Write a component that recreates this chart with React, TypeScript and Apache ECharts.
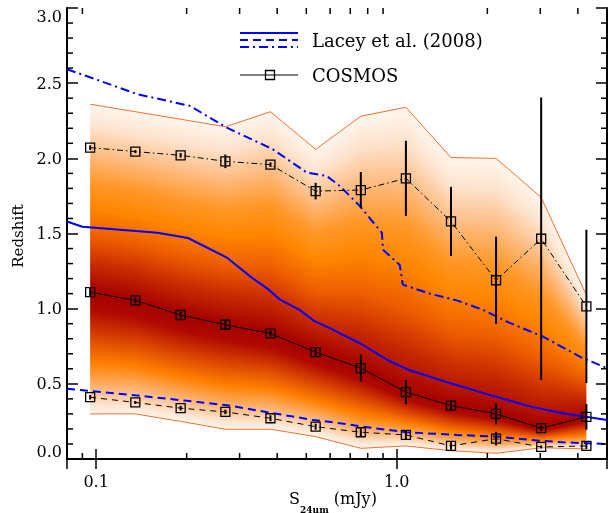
import React, { useEffect, useRef } from 'react';
import * as echarts from 'echarts';

// ---------- data ----------
const cosmosX = [0.0955, 0.135, 0.191, 0.269, 0.38, 0.537, 0.759, 1.072, 1.514, 2.138, 3.02, 4.27];
const cosmosMedian = [1.11, 1.055, 0.958, 0.893, 0.835, 0.711, 0.605, 0.445, 0.355, 0.3, 0.205, 0.28];
const cosmosMedianErr = [0.03, 0.02, 0.02, 0.03, 0.02, 0.033, 0.09, 0.08, 0.035, 0.07, 0.02, 0.085];
const cosmosUpper = [2.071, 2.045, 2.02, 1.98, 1.958, 1.782, 1.789, 1.867, 1.58, 1.189, 1.465, 1.015];
const cosmosUpperErr = [0.015, 0.01, 0.015, 0.045, 0.015, 0.055, 0.12, 0.25, 0.23, 0.29, 0.94, 0.51];
const cosmosLower = [0.411, 0.376, 0.338, 0.313, 0.271, 0.215, 0.178, 0.16, 0.087, 0.135, 0.08, 0.087];
const cosmosLowerErr = [0.015, 0.01, 0.015, 0.015, 0.02, 0.02, 0.025, 0.03, 0.025, 0.045, 0.01, 0.02];
const bandTop = [2.36, 2.31, 2.26, 2.21, 2.31, 2.06, 2.28, 2.34, 2.005, 2.0, 1.74, 1.09];
const bandBottom = [0.3, 0.3, 0.25, 0.198, 0.198, 0.149, 0.071, 0.087, 0.055, 0.038, 0.075, 0.067];

const laceyMedX = [0.08, 0.09, 0.16, 0.202, 0.272, 0.33, 0.373, 0.409, 0.476, 0.534, 0.599, 0.647, 0.754, 0.948, 1.105, 1.5, 1.931, 2.767, 3.56, 5.0];
const laceyMedY = [1.58, 1.545, 1.505, 1.47, 1.34, 1.205, 1.13, 1.06, 0.99, 0.915, 0.87, 0.835, 0.77, 0.65, 0.59, 0.505, 0.44, 0.35, 0.305, 0.26];
const laceyLowX = [0.08, 0.137, 0.2, 0.272, 0.387, 0.526, 0.647, 0.771, 1.079, 1.582, 2.149, 2.767, 3.56, 5.0];
const laceyLowY = [0.467, 0.422, 0.387, 0.358, 0.305, 0.26, 0.238, 0.215, 0.178, 0.16, 0.149, 0.127, 0.111, 0.1];
const laceyHighX = [0.08, 0.137, 0.205, 0.272, 0.387, 0.502, 0.585, 0.647, 0.754, 0.892, 0.899, 1.023, 1.047, 1.287, 1.582, 1.931, 2.374, 3.055, 4.15, 5.0];
const laceyHighY = [2.593, 2.427, 2.349, 2.204, 2.06, 1.905, 1.882, 1.815, 1.682, 1.504, 1.393, 1.29, 1.16, 1.1, 1.055, 0.993, 0.905, 0.815, 0.671, 0.605];

const xMinorTicks = [0.09, 0.2, 0.3, 0.4, 0.5, 0.6, 0.7, 0.8, 0.9, 2, 3, 4];
const yMinorTicks = [0.1, 0.2, 0.3, 0.4, 0.6, 0.7, 0.8, 0.9, 1.1, 1.2, 1.3, 1.4, 1.6, 1.7, 1.8, 1.9, 2.1, 2.2, 2.3, 2.4, 2.6, 2.7, 2.8, 2.9];
const xMin = 0.08;
const xMax = 5;
const yMin = 0;
const yMax = 3;

const SERIF = '"DejaVu Serif", "Liberation Serif", serif';
const BLUE = '#0000ff';
const ORANGE_LINE = '#f86e2a';

const upperStops: [number, string][] = [
  [0, '#fff6ee'], [0.12, '#fde3cc'], [0.26, '#fdbd84'], [0.42, '#ff9726'],
  [0.55, '#ff8600'], [0.7, '#ee5e00'], [0.85, '#c82a00'], [1, '#a40000'],
];
const lowerStops: [number, string][] = [
  [0, '#a40000'], [0.15, '#b00a00'], [0.35, '#d84000'], [0.58, '#ff8000'],
  [0.78, '#fcb474'], [0.92, '#fde2cc'], [1, '#fff6ee'],
];

const lerp = (a: number, b: number, t: number) => a + (b - a) * t;

function bandRenderItem(params: any, api: any) {
  const i = params.dataIndex;
  const last = cosmosX.length - 1;
  if (i >= last) return { type: 'group', children: [] };
  const col = (j: number) => ({
    x: api.coord([cosmosX[j], 0])[0],
    T: api.coord([cosmosX[j], bandTop[j]])[1],
    M: api.coord([cosmosX[j], cosmosMedian[j]])[1],
    B: api.coord([cosmosX[j], bandBottom[j]])[1],
  });
  const c0 = col(i);
  const c1 = col(i + 1);
  const n = Math.max(4, Math.round((c1.x - c0.x) / 2));
  const children: any[] = [];
  for (let k = 0; k < n; k++) {
    const f0 = k / n;
    const f1 = i + 1 === last ? Math.min(1, (k + 1.6) / n) : (k + 1.6) / n;
    const fm = (k + 0.5) / n;
    const xa = lerp(c0.x, c1.x, f0);
    const xb = lerp(c0.x, c1.x, f1);
    const Ta = lerp(c0.T, c1.T, f0);
    const Tb = lerp(c0.T, c1.T, Math.min(1, f1));
    const Ba = lerp(c0.B, c1.B, f0);
    const Bb = lerp(c0.B, c1.B, Math.min(1, f1));
    const T = lerp(c0.T, c1.T, fm);
    const M = lerp(c0.M, c1.M, fm);
    const B = lerp(c0.B, c1.B, fm);
    const H = B - T;
    const stops: any[] = [];
    upperStops.forEach(([f, c]) => {
      stops.push({ offset: Math.min(1, Math.max(0, (lerp(T, M, f) - T) / H)), color: c });
    });
    lowerStops.slice(1).forEach(([f, c]) => {
      stops.push({ offset: Math.min(1, Math.max(0, (lerp(M, B, f) - T) / H)), color: c });
    });
    children.push({
      type: 'polygon',
      silent: true,
      shape: { points: [[xa, Ta], [xb, Tb], [xb, Bb], [xa, Ba]] },
      style: {
        fill: { type: 'linear', x: 0, y: T, x2: 0, y2: B, global: true, colorStops: stops },
        stroke: 'none',
        lineWidth: 0,
      },
    });
  }
  return { type: 'group', children };
}

function errorSeries(ys: number[], errs: number[]) {
  return {
    type: 'custom',
    silent: true,
    z: 6,
    renderItem: (params: any, api: any) => {
      const x = api.value(0);
      const y = api.value(1);
      const e = api.value(2);
      const p1 = api.coord([x, y + e]);
      const p2 = api.coord([x, y - e]);
      return {
        type: 'line',
        shape: { x1: p1[0], y1: p1[1], x2: p2[0], y2: p2[1] },
        style: { stroke: '#000', lineWidth: 2 },
      };
    },
    data: cosmosX.map((x, i) => [x, ys[i], errs[i]]),
  };
}

function cosmosLine(ys: number[], dash: any) {
  return {
    type: 'line',
    z: 7,
    data: cosmosX.map((x, i) => [x, ys[i]]),
    symbol: 'rect',
    symbolSize: 9,
    itemStyle: { color: 'rgba(0,0,0,0)', borderColor: '#000', borderWidth: 1.3 },
    lineStyle: { color: '#000', width: 1, type: dash },
    silent: true,
  };
}

function laceyLine(xs: number[], ys: number[], dash: any) {
  return {
    type: 'line',
    z: 4,
    data: xs.map((x, i) => [x, ys[i]]),
    symbol: 'none',
    lineStyle: { color: BLUE, width: 2, type: dash },
    silent: true,
  };
}

const powerLabel = (v: number) => {
  const l = Math.log10(v);
  return Math.abs(l - Math.round(l)) < 1e-6 ? v.toFixed(1) : '';
};

const tickLine = (x1: number, y1: number, x2: number, y2: number) => ({
  type: 'line',
  shape: { x1, y1, x2, y2 },
  style: { stroke: '#000', lineWidth: 1.5 },
});

export default function App() {
  const ref = useRef<HTMLDivElement>(null);
  useEffect(() => {
    const chart = echarts.init(ref.current!, null, { renderer: 'svg' });
    const axisLine = { show: true, lineStyle: { color: '#000', width: 2 } };
    const xAxisBase = {
      type: 'log',
      logBase: 10,
      min: xMin,
      max: xMax,
      axisLine,
      axisTick: { show: true, inside: true, length: 10, lineStyle: { color: '#000', width: 1.5 } },
      splitLine: { show: false },
      minorTick: { show: false },
    };
    const yAxisBase = {
      type: 'value',
      min: yMin,
      max: yMax,
      interval: 0.5,
      axisLine,
      axisTick: { show: true, inside: true, length: 11, lineStyle: { color: '#000', width: 1.5 } },
      minorTick: { show: false },
      splitLine: { show: false },
    };
    const option: any = {
      animation: false,
      grid: { left: 67, right: 1, top: 8, bottom: 54, outerBoundsMode: 'none', containLabel: false },
      xAxis: [
        {
          ...xAxisBase,
          position: 'bottom',
          axisLabel: {
            formatter: powerLabel,
            color: '#000',
            fontFamily: SERIF,
            fontSize: 16,
            margin: 14,
          },
        },
        { ...xAxisBase, position: 'top', axisLabel: { show: false } },
      ],
      yAxis: [
        {
          ...yAxisBase,
          position: 'left',
          axisLabel: {
            formatter: (v: number) => v.toFixed(1),
            color: '#000',
            fontFamily: SERIF,
            fontSize: 16,
            margin: 5,
            verticalAlignMaxLabel: 'top',
            verticalAlignMinLabel: 'bottom',
          },
        },
        { ...yAxisBase, position: 'right', axisLabel: { show: false } },
      ],
      series: [
        {
          type: 'custom',
          z: 1,
          silent: true,
          renderItem: bandRenderItem,
          data: cosmosX.map((x, i) => [x, cosmosMedian[i]]),
        },
        {
          type: 'line', z: 3, symbol: 'none', silent: true,
          data: cosmosX.map((x, i) => [x, bandTop[i]]),
          lineStyle: { color: ORANGE_LINE, width: 1 },
        },
        {
          type: 'line', z: 3, symbol: 'none', silent: true,
          data: cosmosX.map((x, i) => [x, bandBottom[i]]),
          lineStyle: { color: ORANGE_LINE, width: 1 },
        },
        laceyLine(laceyMedX, laceyMedY, 'solid'),
        laceyLine(laceyLowX, laceyLowY, [8, 5]),
        laceyLine(laceyHighX, laceyHighY, [9, 4, 2, 4]),
        errorSeries(cosmosMedian, cosmosMedianErr),
        errorSeries(cosmosUpper, cosmosUpperErr),
        errorSeries(cosmosLower, cosmosLowerErr),
        cosmosLine(cosmosMedian, 'solid'),
        cosmosLine(cosmosUpper, [6, 3, 1.5, 3]),
        cosmosLine(cosmosLower, [6, 5]),
        {
          type: 'custom',
          z: 10,
          silent: true,
          clip: false,
          renderItem: (params: any, api: any) => {
            const v = api.value(0);
            const pb = api.coord([v, yMin]);
            const pt = api.coord([v, yMax]);
            return {
              type: 'group',
              children: [
                tickLine(pb[0], pb[1], pb[0], pb[1] - 6),
                tickLine(pt[0], pt[1], pt[0], pt[1] + 6),
              ],
            };
          },
          data: xMinorTicks.map((v) => [v, 0]),
        },
        {
          type: 'custom',
          z: 10,
          silent: true,
          clip: false,
          renderItem: (params: any, api: any) => {
            const v = api.value(1);
            const pl = api.coord([xMin, v]);
            const pr = api.coord([xMax, v]);
            return {
              type: 'group',
              children: [
                tickLine(pl[0], pl[1], pl[0] + 6, pl[1]),
                tickLine(pr[0], pr[1], pr[0] - 6, pr[1]),
              ],
            };
          },
          data: yMinorTicks.map((v) => [1, v]),
        },
      ],
      graphic: [
        { type: 'line', shape: { x1: 240, y1: 33, x2: 298, y2: 33 }, style: { stroke: BLUE, lineWidth: 2 } },
        { type: 'line', shape: { x1: 240, y1: 40, x2: 298, y2: 40 }, style: { stroke: BLUE, lineWidth: 2, lineDash: [8, 5] } },
        { type: 'line', shape: { x1: 240, y1: 47, x2: 298, y2: 47 }, style: { stroke: BLUE, lineWidth: 2, lineDash: [9, 4, 2, 4] } },
        {
          type: 'text', x: 312, y: 40,
          style: { text: 'Lacey et al. (2008)', fontFamily: SERIF, fontSize: 18, fill: '#000', verticalAlign: 'middle', align: 'left' },
        },
        { type: 'line', shape: { x1: 240, y1: 75, x2: 298, y2: 75 }, style: { stroke: '#000', lineWidth: 1 } },
        { type: 'rect', shape: { x: 265.5, y: 70.5, width: 9, height: 9 }, style: { stroke: '#000', fill: 'none', lineWidth: 1.3 } },
        {
          type: 'text', x: 312, y: 75,
          style: { text: 'COSMOS', fontFamily: SERIF, fontSize: 18, fill: '#000', verticalAlign: 'middle', align: 'left' },
        },
        {
          type: 'text', x: 18, y: 236, rotation: Math.PI / 2,
          style: { text: 'Redshift', fontFamily: SERIF, fontSize: 15, fill: '#000', align: 'center', verticalAlign: 'middle' },
        },
        {
          type: 'text', x: 333, y: 490,
          style: {
            text: '{a|S}{b|24μm}{a| (mJy)}',
            align: 'center',
            verticalAlign: 'top',
            rich: {
              a: { fontFamily: SERIF, fontSize: 16, fill: '#000', lineHeight: 18, verticalAlign: 'top' },
              b: { fontFamily: SERIF, fontSize: 9, fontWeight: 'bold', fill: '#000', lineHeight: 24, verticalAlign: 'bottom' },
            },
          },
        },
      ],
    };
    chart.setOption(option);
    return () => chart.dispose();
  }, []);
  return <div ref={ref} style={{ position: 'fixed', left: 0, top: 0, width: 608, height: 513 }} />;
}
